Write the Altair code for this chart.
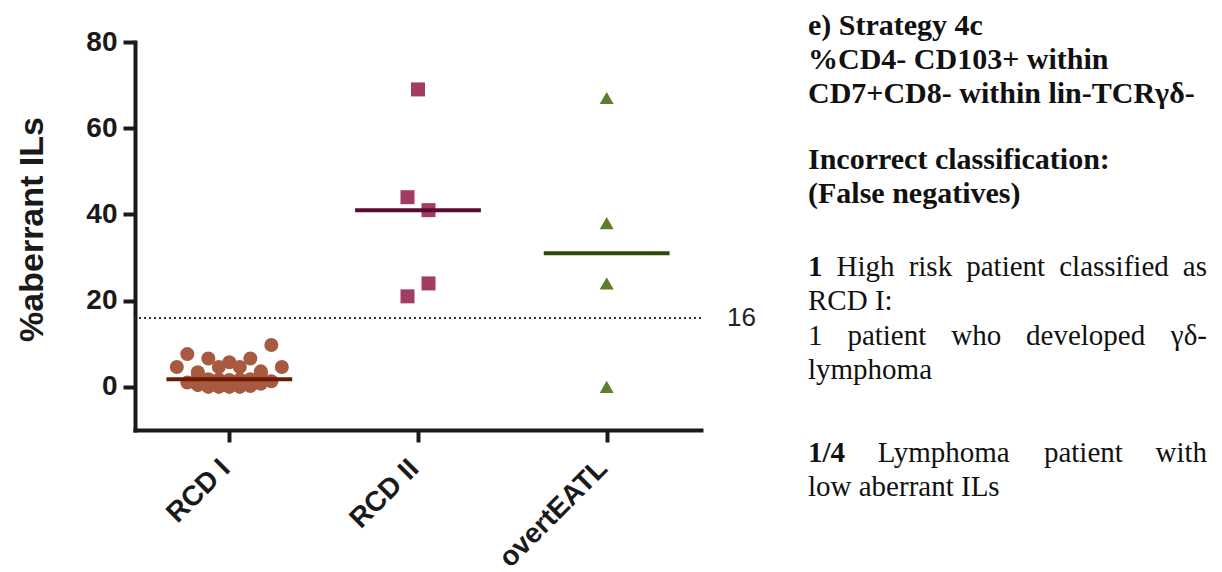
import json

import altair as alt
import numpy as np
import pandas as pd

# ---- data (listed in entry order) -------------------------------------------
groups = ["RCD I", "RCD II", "overtEATL"]
rcd_i = [0, 0, 0, 0, 0.2, 0.4, 0.7, 1.0, 1.3,
         1.6, 1.7, 1.7, 1.8, 1.8, 2.4, 2.9,
         5.7, 4.6, 4.6, 6.6, 6.6, 3.4, 3.6, 7.6, 9.7, 4.6, 4.6]
rcd_ii = [69, 44, 41, 21, 24]
overt_eatl = [67, 38, 24, 0]
cutoff = 16
y_ticks = [0, 20, 40, 60, 80]

# ---- styling / layout -------------------------------------------------------
point_fill = ["#a85a40", "#a23c62", "#5e7e2c"]
median_color = ["#6e1a00", "#5a0a32", "#2a4806"]
shapes = ["circle", "square", "triangle-up"]
# scatter layout: points are grouped in horizontal rows (split at these
# values) and spread centre-out within a row, `step` pixels apart
row_edges = [[1.5, 3.0], [30, 55], [10, 30, 50]]
row_step = [10.5, 21.0, 14.0]

W, H = 566, 388
Y_DOMAIN = [-10, 80]
X_DOMAIN = [0.5, 3.5]
PX_X = W / (X_DOMAIN[1] - X_DOMAIN[0])
PX_Y = H / (Y_DOMAIN[1] - Y_DOMAIN[0])

SANS = "Liberation Sans"
SERIF = "Liberation Serif"
INK = "#1a1a1a"


def column_offsets(values, edges, step):
    rows = {}
    for i, v in enumerate(values):
        r = int(np.searchsorted(edges, v, side="right"))
        rows.setdefault(r, []).append(i)
    offsets = [0.0] * len(values)
    for members in rows.values():
        n = len(members)
        if n % 2:
            slots = [0.0] + [s * k for k in range(1, n // 2 + 1) for s in (-1, 1)]
        else:
            slots = [s * (k + 0.5) for k in range(n // 2) for s in (-1, 1)]
        for idx, slot in zip(members, slots):
            offsets[idx] = slot * step / PX_X
    return offsets


series = [rcd_i, rcd_ii, overt_eatl]
rows, med_rows = [], []
order = 0
for g, vals in enumerate(series):
    offs = column_offsets(vals, row_edges[g], row_step[g])
    for v, o in zip(vals, offs):
        rows.append({"group": groups[g], "x": g + 1 + o, "y": v, "order": order,
                     "fill": point_fill[g], "shape": shapes[g]})
        order += 1
    med_rows.append({"group": groups[g], "x": g + 1 - 1 / 3, "x2": g + 1 + 1 / 3,
                     "y": float(np.median(vals)), "stroke": median_color[g]})
points_df = pd.DataFrame(rows)
median_df = pd.DataFrame(med_rows)
cut_df = pd.DataFrame({"y": [cutoff], "label": [str(cutoff)]})

xs = alt.Scale(domain=X_DOMAIN, nice=False, zero=False)
ys = alt.Scale(domain=Y_DOMAIN, nice=False, zero=False)

x_axis = alt.Axis(
    values=[1, 2, 3],
    labelExpr=f"{json.dumps(groups)}[datum.value - 1]",
    labelAngle=-45, labelAlign="right", labelBaseline="middle",
    labelFont=SANS, labelFontWeight="bold", labelFontSize=28, labelColor=INK,
    labelPadding=22, labelOffset=-4, title=None, grid=False,
    domainWidth=4, domainColor=INK, domainCap="square",
    tickWidth=4, tickColor=INK, tickSize=12,
)
y_axis = alt.Axis(
    values=y_ticks, title="%aberrant ILs",
    titleFont=SANS, titleFontWeight="bold", titleFontSize=34, titleColor=INK,
    titleAngle=-90, titleAlign="center", titleBaseline="alphabetic",
    titleX=-93, titleY=187,
    labelFont=SANS, labelFontWeight="bold", labelFontSize=28, labelColor=INK,
    labelPadding=6, grid=False,
    domainWidth=4, domainColor=INK, domainCap="square",
    tickWidth=4, tickColor=INK, tickSize=12,
)

X = lambda f: alt.X(f, type="quantitative", scale=xs, axis=x_axis)
Y = lambda f: alt.Y(f, type="quantitative", scale=ys, axis=y_axis)

cut_rule = alt.Chart(cut_df).mark_rule(
    strokeDash=[2, 3], strokeWidth=2, color="#333333"
).encode(y=Y("y"))

cut_label = alt.Chart(cut_df).mark_text(
    font=SANS, fontSize=26, align="left", baseline="middle", color="#222222"
).encode(y=Y("y"), x=alt.value(592), text="label:N")

dots = alt.Chart(points_df).mark_point(filled=True, size=196, opacity=1).encode(
    x=X("x"), y=Y("y"),
    color=alt.Color("fill:N", scale=None),
    shape=alt.Shape("shape:N", scale=None),
    order=alt.Order("order:Q"),
)

medians = alt.Chart(median_df).mark_rule(strokeWidth=4).encode(
    x=X("x"), x2="x2:Q", y=Y("y"),
    color=alt.Color("stroke:N", scale=None),
)

# ---- side notes ---------------------------------------------------------------
# approximate Times-style advance widths (em) used to justify note lines
EM = {" ": .25, "a": .444, "b": .5, "c": .444, "d": .5, "e": .444, "f": .333,
      "g": .5, "h": .5, "i": .278, "k": .5, "l": .278, "m": .778, "n": .5,
      "o": .5, "p": .5, "r": .333, "s": .389, "t": .278, "v": .5, "w": .722,
      "y": .5, "H": .722, "L": .611, "I": .333, "R": .667, "C": .667,
      "D": .722, ":": .278, "-": .333, "1": .5, "/": .278, "4": .5,
      "γ": .44, "δ": .5}


def text_width(s, size):
    return sum(EM.get(ch, .5) for ch in s) * size


L, R = 673, 1072          # note column edges, px from the plot origin
HEAD, BODY = 30, 29       # font sizes
note_rows = []


def plain(text, weight, size, y):
    note_rows.append((text, weight, size, L, y, "left"))


def justified(words, size, y):
    widths = [text_width(w, size) for w, _ in words]
    gap = (R - L - sum(widths)) / (len(words) - 1)
    x = L
    for k, ((w, weight), wd) in enumerate(zip(words, widths)):
        if k == len(words) - 1:
            note_rows.append((w, weight, size, R, y, "right"))
        else:
            note_rows.append((w, weight, size, x, y, "left"))
        x += wd + gap


plain("e) Strategy 4c", "bold", HEAD, -7)
plain("%CD4- CD103+ within", "bold", HEAD, 27)
plain("CD7+CD8- within lin-TCRγδ-", "bold", HEAD, 61)
plain("Incorrect classification:", "bold", HEAD, 127)
plain("(False negatives)", "bold", HEAD, 161)
justified([("1", "bold"), ("High", "normal"), ("risk", "normal"),
           ("patient", "normal"), ("classified", "normal"), ("as", "normal")], BODY, 234)
plain("RCD I:", "normal", BODY, 268)
justified([("1", "normal"), ("patient", "normal"), ("who", "normal"),
           ("developed", "normal"), ("γδ-", "normal")], BODY, 303)
plain("lymphoma", "normal", BODY, 337)
justified([("1/4", "bold"), ("Lymphoma", "normal"), ("patient", "normal"),
           ("with", "normal")], BODY, 420)
plain("low aberrant ILs", "normal", BODY, 454)

notes_df = pd.DataFrame(note_rows, columns=["text", "weight", "size", "px", "py", "anchor"])
notes_df["x"] = X_DOMAIN[0] + notes_df["px"] / PX_X
notes_df["y"] = Y_DOMAIN[1] - notes_df["py"] / PX_Y

note_layers = []
for (weight, anchor, size), sub in notes_df.groupby(["weight", "anchor", "size"]):
    note_layers.append(
        alt.Chart(sub[["text", "x", "y"]]).mark_text(
            font=SERIF, fontSize=int(size), fontWeight=weight, align=anchor,
            baseline="alphabetic", color="#111111",
        ).encode(x=X("x"), y=Y("y"), text="text:N")
    )

chart = alt.layer(cut_rule, cut_label, dots, medians, *note_layers).properties(
    width=W, height=H,
    autosize=alt.AutoSizeParams(type="none"),
    padding={"left": 135, "top": 42, "right": 1222 - 135 - W, "bottom": 572 - 42 - H},
).configure(background="white").configure_view(strokeWidth=0, stroke="transparent")

chart.save("out.html", embed_options={"renderer": "svg", "actions": False})
